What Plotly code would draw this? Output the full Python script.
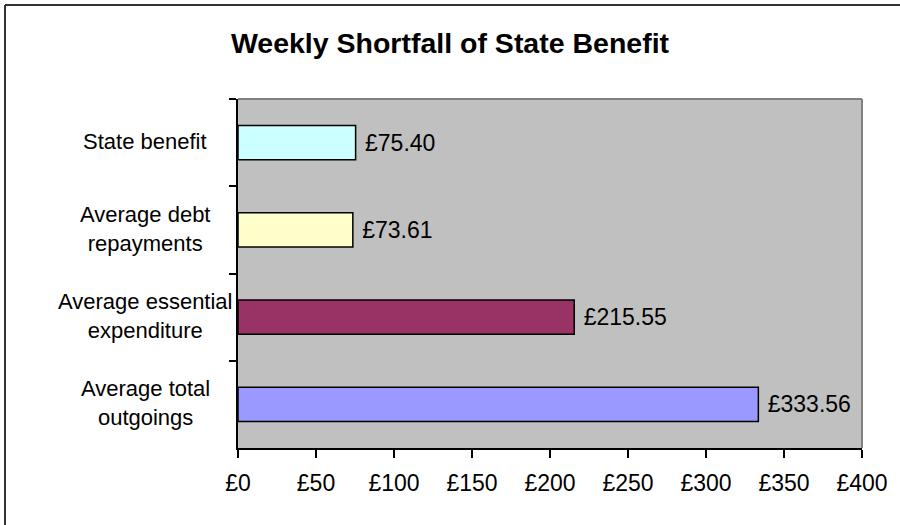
import plotly.graph_objects as go

categories = ["State benefit", "Average debt repayments",
              "Average essential expenditure", "Average total outgoings"]
label_lines = ["State benefit", "Average debt<br>repayments",
               "Average essential<br>expenditure", "Average total<br>outgoings"]
values = [75.40, 73.61, 215.55, 333.56]
colors = ["#CCFFFF", "#FFFFCC", "#993366", "#9999FF"]
x_ticks = [0, 50, 100, 150, 200, 250, 300, 350, 400]
x_tick_text = ["£" + str(v) for v in x_ticks]

FONT = "Liberation Sans, Arial, sans-serif"

fig = go.Figure()
fig.add_trace(go.Bar(
    y=categories, x=values, orientation="h",
    marker=dict(color=colors, line=dict(color="black", width=1.5)),
    texttemplate="\u00a0£%{x:.2f}", textposition="outside",
    textfont=dict(family=FONT, size=23, color="black"),
    cliponaxis=False, showlegend=False,
))

L, R, T, B = 238, 38, 99, 77
W, H = 900, 525
pw, ph = W - L - R, H - T - B

def px_x(p):
    return (p - L) / pw

def px_y(p):
    return (H - B - p) / ph

annotations = []
for cat, txt in zip(categories, label_lines):
    annotations.append(dict(
        x=px_x(145), xref="paper", y=cat, yref="y", yshift=1, text=txt,
        showarrow=False, xanchor="center", yanchor="middle", align="center",
        font=dict(family=FONT, size=22, color="black"),
    ))

shapes = [
    # plot area top & right gray border
    dict(type="line", xref="paper", yref="paper", x0=0, x1=1, y0=1, y1=1,
         line=dict(color="#808080", width=2)),
    dict(type="line", xref="paper", yref="paper", x0=1, x1=1, y0=0, y1=1,
         line=dict(color="#808080", width=2)),
    # figure frame (left & top)
    dict(type="line", xref="paper", yref="paper", x0=px_x(5), x1=px_x(5),
         y0=px_y(5), y1=px_y(540), line=dict(color="#333333", width=2)),
    dict(type="line", xref="paper", yref="paper", x0=px_x(5), x1=px_x(920),
         y0=px_y(5), y1=px_y(5), line=dict(color="#333333", width=2)),
]

fig.update_layout(
    width=W, height=H,
    margin=dict(l=L, r=R, t=T, b=B, pad=0),
    paper_bgcolor="white", plot_bgcolor="#C0C0C0",
    bargap=0.61,
    title=dict(text="<b>Weekly Shortfall of State Benefit</b>",
               x=0.5, xanchor="center", y=1 - 43 / H, yanchor="middle",
               yref="container",
               font=dict(family=FONT, size=28.5, color="black")),
    xaxis=dict(range=[0, 400], tickvals=x_ticks, ticktext=x_tick_text,
               showgrid=False, zeroline=False, showline=True,
               linecolor="black", linewidth=1.5,
               ticks="outside", ticklen=8, tickcolor="black", tickwidth=1.5,
               ticklabelstandoff=6,
               tickfont=dict(family=FONT, size=23, color="black")),
    yaxis=dict(categoryorder="array", categoryarray=categories,
               autorange="reversed", range=[3.5, -0.5],
               tickson="boundaries", ticks="outside", ticklen=7,
               tickcolor="black", tickwidth=1.5,
               showticklabels=False, showgrid=False, zeroline=False,
               showline=True, linecolor="black", linewidth=1.5),
    annotations=annotations, shapes=shapes,
)

fig.write_html("out.html")
